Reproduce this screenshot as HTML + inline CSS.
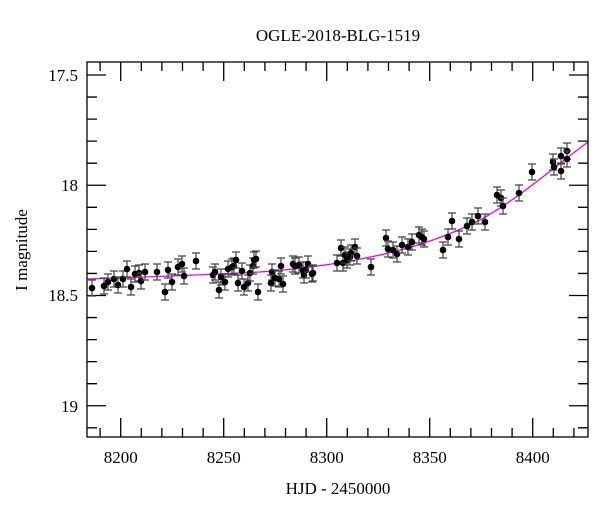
<!DOCTYPE html>
<html><head><style>body{margin:0;background:#fff}svg{display:block}text{font-family:"Liberation Serif",serif;fill:#000}</style></head>
<body>
<svg width="600" height="512" xmlns="http://www.w3.org/2000/svg">
<defs>
<g id="p"><path d="M0,-8V8M-4,-8H4M-4,8H4" stroke="#444" stroke-width="1.2" fill="none"/><circle r="3.3" fill="#000"/></g>
</defs>
<rect width="600" height="512" fill="#fff"/>
<text x="338" y="41" font-size="17" text-anchor="middle">OGLE-2018-BLG-1519</text>
<text x="338" y="494" font-size="17" text-anchor="middle">HJD - 2450000</text>
<text transform="translate(27,250) rotate(-90)" font-size="17" text-anchor="middle">I magnitude</text>
<g font-size="17" text-anchor="middle">
<text x="120.7" y="463">8200</text><text x="223.7" y="463">8250</text><text x="326.7" y="463">8300</text><text x="429.7" y="463">8350</text><text x="532.7" y="463">8400</text>
</g>
<g font-size="17" text-anchor="end">
<text x="78" y="81">17.5</text><text x="78" y="191">18</text><text x="78" y="301">18.5</text><text x="78" y="412">19</text>
</g>
<path stroke="#000" stroke-width="1.3" fill="none" d="
M100.1,437v-9M120.7,437v-19M141.3,437v-9M161.9,437v-9M182.5,437v-9M203.1,437v-9M223.7,437v-19M244.3,437v-9M264.9,437v-9M285.5,437v-9M306.1,437v-9M326.7,437v-19M347.3,437v-9M367.9,437v-9M388.5,437v-9M409.1,437v-9M429.7,437v-19M450.3,437v-9M470.9,437v-9M491.5,437v-9M512.1,437v-9M532.7,437v-19M553.3,437v-9M573.9,437v-9
M100.1,62v9M120.7,62v19M141.3,62v9M161.9,62v9M182.5,62v9M203.1,62v9M223.7,62v19M244.3,62v9M264.9,62v9M285.5,62v9M306.1,62v9M326.7,62v19M347.3,62v9M367.9,62v9M388.5,62v9M409.1,62v9M429.7,62v19M450.3,62v9M470.9,62v9M491.5,62v9M512.1,62v9M532.7,62v19M553.3,62v9M573.9,62v9
M87,75h19M87,97.05h10M87,119.1h10M87,141.15h10M87,163.2h10M87,185.25h19M87,207.3h10M87,229.35h10M87,251.4h10M87,273.45h10M87,295.5h19M87,317.55h10M87,339.6h10M87,361.65h10M87,383.7h10M87,405.75h19M87,427.8h10
M588,75h-19M588,97.05h-10M588,119.1h-10M588,141.15h-10M588,163.2h-10M588,185.25h-19M588,207.3h-10M588,229.35h-10M588,251.4h-10M588,273.45h-10M588,295.5h-19M588,317.55h-10M588,339.6h-10M588,361.65h-10M588,383.7h-10M588,405.75h-19M588,427.8h-10"/>
<path fill="none" stroke="#ee00ee" stroke-width="1.3" d="M87,279 C150,277 220,274 260,272 C300,269 340,264 380,255 C420,246 450,235 480,220 C520,198 555,166 588,142"/>
<use href="#p" x="92" y="288"/><use href="#p" x="104" y="286"/><use href="#p" x="108" y="282"/><use href="#p" x="114" y="279"/><use href="#p" x="118" y="285"/><use href="#p" x="123" y="279"/><use href="#p" x="127" y="269"/><use href="#p" x="131" y="287"/><use href="#p" x="135" y="274"/><use href="#p" x="139" y="273"/><use href="#p" x="141" y="281"/><use href="#p" x="145" y="272"/><use href="#p" x="157" y="272"/><use href="#p" x="165" y="292"/><use href="#p" x="168" y="270"/><use href="#p" x="172" y="282"/><use href="#p" x="178" y="267"/><use href="#p" x="182" y="264"/><use href="#p" x="184" y="276"/><use href="#p" x="196" y="261"/><use href="#p" x="213" y="275"/><use href="#p" x="215" y="272"/><use href="#p" x="219" y="290"/><use href="#p" x="221" y="277"/><use href="#p" x="225" y="282"/><use href="#p" x="228" y="269"/><use href="#p" x="232" y="267"/><use href="#p" x="234" y="266"/><use href="#p" x="236" y="260"/><use href="#p" x="238" y="283"/><use href="#p" x="242" y="271"/><use href="#p" x="244" y="287"/><use href="#p" x="248" y="283"/><use href="#p" x="250" y="273"/><use href="#p" x="253" y="266"/><use href="#p" x="254" y="260"/><use href="#p" x="256" y="259"/><use href="#p" x="258" y="292"/><use href="#p" x="272" y="272"/><use href="#p" x="271" y="283"/><use href="#p" x="275" y="278"/><use href="#p" x="279" y="279"/><use href="#p" x="281" y="266"/><use href="#p" x="283" y="284"/><use href="#p" x="293" y="264"/><use href="#p" x="295" y="266"/><use href="#p" x="299" y="265"/><use href="#p" x="303" y="270"/><use href="#p" x="304" y="275"/><use href="#p" x="306" y="270"/><use href="#p" x="308" y="264"/><use href="#p" x="312" y="274"/><use href="#p" x="313" y="273"/><use href="#p" x="337" y="263"/><use href="#p" x="341" y="248"/><use href="#p" x="343" y="263"/><use href="#p" x="345" y="255"/><use href="#p" x="347" y="260"/><use href="#p" x="350" y="257"/><use href="#p" x="351" y="253"/><use href="#p" x="355" y="247"/><use href="#p" x="357" y="256"/><use href="#p" x="371" y="267"/><use href="#p" x="386" y="238"/><use href="#p" x="388" y="249"/><use href="#p" x="393" y="250"/><use href="#p" x="397" y="254"/><use href="#p" x="402" y="245"/><use href="#p" x="408" y="247"/><use href="#p" x="412" y="242"/><use href="#p" x="419" y="235"/><use href="#p" x="422" y="237"/><use href="#p" x="424" y="239"/><use href="#p" x="443" y="250"/><use href="#p" x="448" y="237"/><use href="#p" x="452" y="221"/><use href="#p" x="459" y="239"/><use href="#p" x="467" y="226"/><use href="#p" x="472" y="222"/><use href="#p" x="478" y="216"/><use href="#p" x="485" y="222"/><use href="#p" x="497" y="195"/><use href="#p" x="501" y="198"/><use href="#p" x="503" y="206"/><use href="#p" x="519" y="193"/><use href="#p" x="532" y="172"/><use href="#p" x="553" y="162"/><use href="#p" x="554" y="167"/><use href="#p" x="561" y="156"/><use href="#p" x="561" y="171"/><use href="#p" x="567" y="151"/><use href="#p" x="567" y="159"/>
<rect x="87" y="62" width="501" height="375" fill="none" stroke="#000" stroke-width="1.3"/>
</svg>
</body></html>
